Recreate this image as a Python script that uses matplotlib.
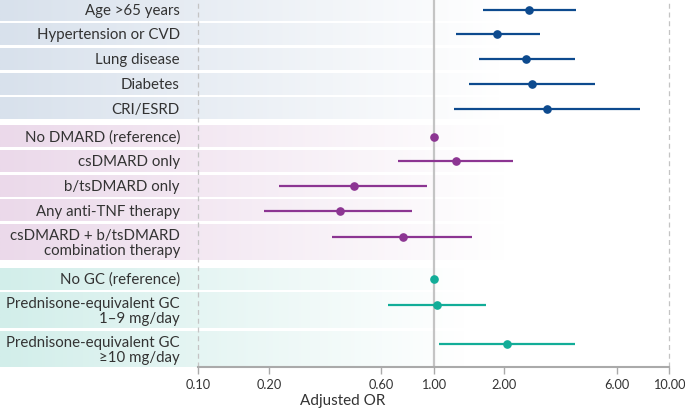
import numpy as np
import matplotlib.pyplot as plt
from matplotlib.colors import LinearSegmentedColormap

plt.rcParams['font.family'] = ['Lato', 'DejaVu Sans']

# --- data: adjusted odds ratios with 95% CI ---
risk_labels = ['Age >65 years', 'Hypertension or CVD', 'Lung disease', 'Diabetes', 'CRI/ESRD']
risk_or = [2.55, 1.86, 2.47, 2.61, 3.02]
risk_lo = [1.62, 1.24, 1.56, 1.41, 1.22]
risk_hi = [4.04, 2.83, 3.99, 4.86, 7.53]

dmard_labels = ['No DMARD (reference)', 'csDMARD only', 'b/tsDMARD only',
                'Any anti-TNF therapy', 'csDMARD + b/tsDMARD\ncombination therapy']
dmard_or = [1.00, 1.24, 0.46, 0.40, 0.74]
dmard_lo = [np.nan, 0.71, 0.22, 0.19, 0.37]
dmard_hi = [np.nan, 2.18, 0.94, 0.81, 1.46]

gc_labels = ['No GC (reference)', 'Prednisone-equivalent GC\n1\u20139 mg/day',
             'Prednisone-equivalent GC\n\u226510 mg/day']
gc_or = [1.00, 1.035, 2.05]
gc_lo = [np.nan, 0.64, 1.06]
gc_hi = [np.nan, 1.67, 3.99]

xticks = [0.1, 0.2, 0.6, 1.0, 2.0, 6.0, 10.0]

groups = [
    (risk_labels, risk_or, risk_lo, risk_hi, '#0d4a8e', '#d8e1ec', 500),
    (dmard_labels, dmard_or, dmard_lo, dmard_hi, '#8c3592', '#ebd9ea', 505),
    (gc_labels, gc_or, gc_lo, gc_hi, '#12ad98', '#d2eeea', 465),
]

W, H = 685, 410
AX_BOTTOM = 368          # pixel row of the x axis
fig = plt.figure(figsize=(W / 100, H / 100), dpi=100)
pos = [0, 1 - AX_BOTTOM / H, 1, AX_BOTTOM / H]

# background axes in pixel units for the label boxes
bg = fig.add_axes(pos, zorder=0)
bg.set_xlim(0, W)
bg.set_ylim(AX_BOTTOM, 0)
bg.axis('off')

# main log axes, same placement
ax = fig.add_axes(pos, zorder=1)
ax.patch.set_alpha(0)
ax.set_xscale('log')
px_per_decade = 235.5
x_one = 433.5
ax.set_xlim(10 ** (-x_one / px_per_decade), 10 ** ((W - x_one) / px_per_decade))
ax.set_ylim(AX_BOTTOM, 0)

grad = np.linspace(0, 1, 256).reshape(1, -1)
single_h, double_h, row_gap = 21.5, 35.5, 3.2
group_gaps = [6.5, 8.0]

y = 0.0
for gi, (labels, ors, los, his, col, light, box_w) in enumerate(groups):
    cmap = LinearSegmentedColormap.from_list('g%d' % gi, [light, '#ffffff'])
    for lab, o, lo, hi in zip(labels, ors, los, his):
        h = double_h if '\n' in lab else single_h
        bg.imshow(grad, cmap=cmap, aspect='auto', extent=(0, box_w, y + h, y),
                  interpolation='bilinear', zorder=0)
        yc = y + h / 2
        bg.text(180, yc, lab, ha='right', va='center', fontsize=10.8,
                color='#333333', linespacing=1.05, zorder=2)
        ym = yc - 5.5 if '\n' in lab else yc
        if not np.isnan(lo):
            ax.plot([lo, hi], [ym, ym], color=col, lw=1.6, solid_capstyle='butt', zorder=3)
        ax.plot(o, ym, 'o', color=col, ms=5.2, zorder=4)
        y += h + row_gap
    y -= row_gap
    if gi < len(group_gaps):
        y += group_gaps[gi]

# reference lines
ax.axvline(1.0, color='#c4c4c4', lw=1.6, zorder=2)
ax.axvline(0.1, color='#c4c4c4', lw=0.9, ls=(0, (4, 3)), zorder=2)
ax.axvline(10.0, color='#c4c4c4', lw=0.9, ls=(0, (4, 3)), zorder=2)

for s in ['top', 'right', 'left']:
    ax.spines[s].set_visible(False)
ax.spines['bottom'].set_bounds(0.1, 10.0)
ax.spines['bottom'].set_color('#aaaaaa')
ax.spines['bottom'].set_linewidth(1.5)
ax.set_yticks([])
ax.set_xticks(xticks)
ax.set_xticklabels(['%.2f' % t for t in xticks])
ax.minorticks_off()
ax.tick_params(axis='x', length=5, width=1, color='#aaaaaa', labelsize=9.2,
               labelcolor='#333333', pad=3)
ax.set_xlabel('Adjusted OR', fontsize=11, color='#333333', labelpad=2)

fig.savefig('out.png', dpi=100)
